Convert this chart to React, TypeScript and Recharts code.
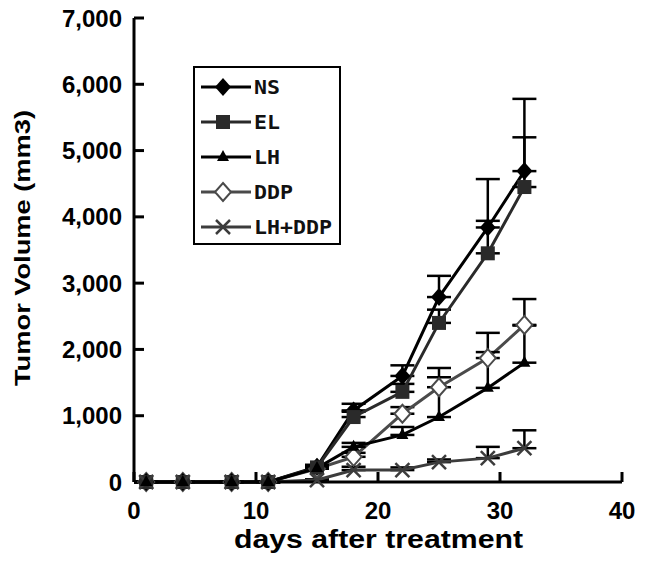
import React from 'react'
import { LineChart, Line, XAxis, YAxis, ErrorBar, Label } from 'recharts'

const days = [1, 4, 8, 11, 15, 18, 22, 25, 29, 32]
const ns = [0, 0, 0, 0, 230, 1080, 1600, 2790, 3840, 4690]
const nsErr = [0, 0, 0, 0, 30, 100, 160, 320, 730, 1090]
const el = [0, 0, 0, 0, 220, 980, 1360, 2400, 3450, 4450]
const elErr = [0, 0, 0, 0, 20, 80, 120, 200, 490, 750]
const lh = [0, 0, 0, 0, 210, 530, 710, 980, 1420, 1800]
const lhErr = [0, 0, 0, 0, 20, 60, 120, 740, 540, 560]
const ddp = [0, 0, 0, 0, 200, 380, 1030, 1430, 1870, 2370]
const ddpErr = [0, 0, 0, 0, 20, 60, 100, 150, 380, 390]
const lhddp = [0, 0, 0, 0, 30, 180, 180, 300, 360, 510]
const lhddpErr = [0, 0, 0, 0, 10, 50, 40, 40, 170, 270]

const xTicks = [0, 10, 20, 30, 40]
const yTicks = [0, 1000, 2000, 3000, 4000, 5000, 6000, 7000]

// legend order
const series = [
    { key: 'ns', name: 'NS', color: '#000', marker: 'diamond' },
    { key: 'el', name: 'EL', color: '#2a2a2a', marker: 'square' },
    { key: 'lh', name: 'LH', color: '#000', marker: 'triangle' },
    { key: 'ddp', name: 'DDP', color: '#4a4a4a', marker: 'hollow' },
    { key: 'lhddp', name: 'LH+DDP', color: '#3c3c3c', marker: 'cross' },
]
// drawing order (last on top)
const drawOrder = ['ddp', 'ns', 'el', 'lhddp', 'lh']

const data = days.map((d, i) => ({
    day: d,
    ns: ns[i], nsErr: [0, nsErr[i]],
    el: el[i], elErr: [0, elErr[i]],
    lh: lh[i], lhErr: [0, lhErr[i]],
    ddp: ddp[i], ddpErr: [0, ddpErr[i]],
    lhddp: lhddp[i], lhddpErr: [0, lhddpErr[i]],
}))

function Marker({ kind, cx, cy, color }: { kind: string, cx: number, cy: number, color: string }) {
    if (cx == null || cy == null) return null
    if (kind === 'diamond')
        return <polygon points={`${cx},${cy - 9} ${cx + 8},${cy} ${cx},${cy + 9} ${cx - 8},${cy}`} fill={color} />
    if (kind === 'square')
        return <rect x={cx - 7} y={cy - 7} width={14} height={14} fill={color} />
    if (kind === 'triangle')
        return <polygon points={`${cx},${cy - 7} ${cx + 6},${cy + 4} ${cx - 6},${cy + 4}`} fill={color} />
    if (kind === 'hollow')
        return <polygon points={`${cx},${cy - 9} ${cx + 8},${cy} ${cx},${cy + 9} ${cx - 8},${cy}`} fill="#fff" stroke={color} strokeWidth={2} />
    return (
        <g stroke={color} strokeWidth={2.5}>
            <line x1={cx - 7} y1={cy - 7} x2={cx + 7} y2={cy + 7} />
            <line x1={cx - 7} y1={cy + 7} x2={cx + 7} y2={cy - 7} />
        </g>
    )
}

function LegendBox() {
    return (
        <svg width={150} height={180}>
            <rect x={1} y={1} width={146} height={177} fill="#fff" stroke="#000" strokeWidth={2} />
            {series.map((s, i) => {
                const y = 21 + i * 35
                return (
                    <g key={s.key}>
                        <line x1={8} y1={y} x2={58} y2={y} stroke={s.color} strokeWidth={3} />
                        <Marker kind={s.marker} cx={30} cy={y} color={s.color} />
                        <text x={61} y={y + 7} fontFamily="'DejaVu Sans Mono', monospace" fontWeight="bold" fontSize={19}
                            textLength={s.name.length * 13} lengthAdjust="spacingAndGlyphs" fill="#111">{s.name}</text>
                    </g>
                )
            })}
        </svg>
    )
}

const fmt = (v: number) => v.toLocaleString('en-US')

export default function App() {
    return (
        <div style={{ position: 'absolute', left: 0, top: 0, background: '#fff' }}>
            <LineChart width={646} height={565} data={data} margin={{ top: 18, right: 24, bottom: 0, left: 0 }}>
                <XAxis dataKey="day" type="number" domain={[0, 40]} ticks={xTicks} height={83}
                    axisLine={{ stroke: '#000', strokeWidth: 3 }} tickLine={{ stroke: '#000', strokeWidth: 3 }}
                    tickSize={-10} tickMargin={30}
                    tick={{ fill: '#000', fontSize: 24, fontFamily: 'Liberation Sans, Arial', fontWeight: 'bold' }}>
                    <Label content={({ viewBox }: any) => (
                        <text x={viewBox.x + viewBox.width / 2 - 144} y={548} fontSize={26} fontWeight="bold"
                            fontFamily="Liberation Sans, Arial" textLength={289} lengthAdjust="spacingAndGlyphs">
                            days  after  treatment
                        </text>
                    )} />
                </XAxis>
                <YAxis type="number" domain={[0, 7000]} ticks={yTicks} width={134} tickFormatter={fmt}
                    axisLine={{ stroke: '#000', strokeWidth: 3 }} tickLine={{ stroke: '#000', strokeWidth: 3 }}
                    tickSize={-10} tickMargin={22}
                    tick={{ fill: '#000', fontSize: 24, fontFamily: 'Liberation Sans, Arial', fontWeight: 'bold' }}>
                    <Label content={() => (
                        <text transform="translate(30,386) rotate(-90)" fontSize={22} fontWeight="bold"
                            fontFamily="Liberation Sans, Arial" textLength={276} lengthAdjust="spacingAndGlyphs">
                            Tumor  Volume  (mm3)
                        </text>
                    )} />
                </YAxis>
                {drawOrder.map(k => series.find(s => s.key === k)!).map(s => (
                    <Line key={s.key} dataKey={s.key} name={s.name} stroke={s.color} strokeWidth={3}
                        isAnimationActive={false}
                        dot={(p: any) => <Marker key={`${s.key}-${p.index}`} kind={s.marker} cx={p.cx} cy={p.cy} color={s.color} />}
                        activeDot={false}>
                        <ErrorBar dataKey={`${s.key}Err`} direction="y" width={12} stroke="#000" strokeWidth={2.5} isAnimationActive={false} />
                    </Line>
                ))}
            </LineChart>
            <div style={{ position: 'absolute', left: 193, top: 66, width: 150, height: 180 }}>
                <LegendBox />
            </div>
        </div>
    )
}
